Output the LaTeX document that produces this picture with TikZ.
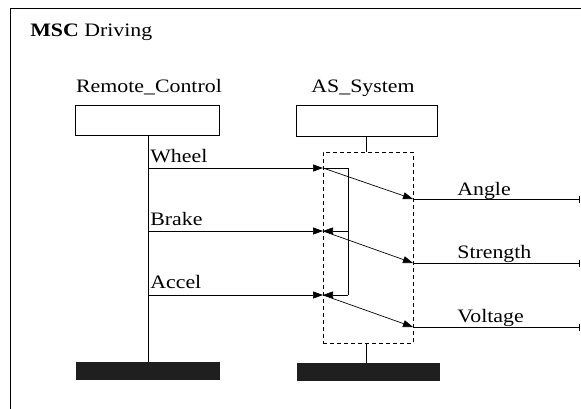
\documentclass[tikz,border=0pt]{standalone}
\usepackage{fontspec}
\setmainfont{Liberation Serif}[FakeStretch=1.15]
\usetikzlibrary{arrows.meta}
\begin{document}
\begin{tikzpicture}[x=1pt,y=-1pt,
  line width=0.7pt,
  lbl/.style={font=\fontsize{19}{22}\selectfont, inner sep=0pt, anchor=base west},
  hdr/.style={font=\fontsize{19}{22}\selectfont, inner sep=0pt, anchor=base},
  instbox/.style={draw, rectangle, inner sep=0pt},
  stopbar/.style={fill=black!88, draw=black!88, rectangle, inner sep=0pt},
  coregbox/.style={draw, dashed, dash pattern=on 4pt off 3pt, rectangle, inner sep=0pt},
  msg/.style={-{Triangle[length=10pt,width=7pt]}},
  outl/.style={-{Bar[width=7pt]}}
]
\useasboundingbox (0,0) rectangle (581,408);
% frame
\draw (10.5,420) -- (10.5,8.5) -- (600,8.5);
\node[lbl] (title) at (30,36) {\textbf{MSC} Driving};
% instances
\node[hdr] (rclabel) at (149,92) {Remote\_Control};
\node[hdr] (aslabel) at (363,92) {AS\_System};
\node[instbox, minimum width=144pt, minimum height=30pt] (rcbox) at (147,120) {};
\node[instbox, minimum width=141pt, minimum height=31pt] (asbox) at (367,120.5) {};
\node[stopbar, minimum width=143pt, minimum height=17pt] (rcstop) at (147.5,370.5) {};
\node[stopbar, minimum width=142pt, minimum height=17pt] (asstop) at (368,371.5) {};
\node[coregbox, minimum width=90pt, minimum height=191pt] (coreg) at (368,247.5) {};
% lifelines
\draw (rcbox.south -| 148,0) -- (rcstop.north -| 148,0);
\draw (asbox.south -| 366,0) -- (coreg.north -| 366,0);
\draw (coreg.south -| 366,0) -- (asstop.north -| 366,0);
% coordinates
\coordinate (rw) at (148,168);
\coordinate (rb) at (148,231);
\coordinate (ra) at (148,295);
\coordinate (aw) at (323,168);
\coordinate (ab) at (323,231);
\coordinate (aa) at (323,295);
\coordinate (jw) at (348,168);
\coordinate (jb) at (348,231);
\coordinate (ja) at (348,295);
\coordinate (oa) at (413,199);
\coordinate (os) at (413,263);
\coordinate (ov) at (413,327);
\coordinate (ea) at (580,199);
\coordinate (es) at (580,263);
\coordinate (ev) at (580,327);
% messages
\draw[msg] (rw) -- (aw);
\draw[msg] (rb) -- (ab);
\draw[msg] (ra) -- (aa);
\draw (aw) -- (jw) -- (ja);
\draw[msg] (jb) -- (ab);
\draw[msg] (ja) -- (aa);
\draw[msg] (aw) -- (oa);
\draw[msg] (ab) -- (os);
\draw[msg] (aa) -- (ov);
\draw[outl] (oa) -- (ea);
\draw[outl] (os) -- (es);
\draw[outl] (ov) -- (ev);
% labels
\node[lbl] (lw) at (150,162) {Wheel};
\node[lbl] (lb) at (150,225) {Brake};
\node[lbl] (la) at (150,288) {Accel};
\node[lbl] (lan) at (457,195) {Angle};
\node[lbl] (lst) at (457,258) {Strength};
\node[lbl] (lvo) at (457,322) {Voltage};
\end{tikzpicture}
\end{document}
